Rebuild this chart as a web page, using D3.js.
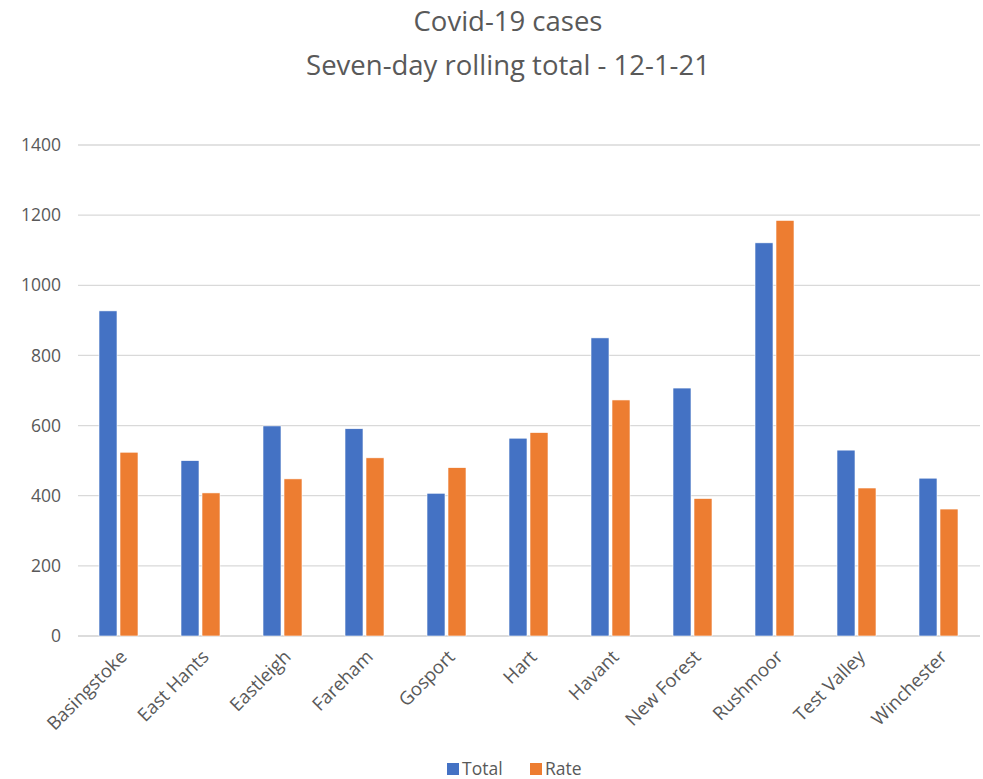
<!DOCTYPE html>
<html><head><meta charset="utf-8">
<script src="https://cdn.jsdelivr.net/npm/d3@7"></script>
<style>body{margin:0;background:#fff}svg{display:block}</style>
</head><body><svg id="c" width="983" height="779"></svg>
<script>
const categories = ["Basingstoke","East Hants","Eastleigh","Fareham","Gosport","Hart","Havant","New Forest","Rushmoor","Test Valley","Winchester"];
const totalValues = [927,500,599,591,407,564,850,707,1121,530,450];
const rateValues = [524,408,448,508,480,580,673,392,1185,422,362];
const seriesNames = ["Total","Rate"];
const seriesColors = ["#4472C4","#ED7D31"];
const yTicks = [0,200,400,600,800,1000,1200,1400];

(function(){
const svg = d3.select("#c");
const font = "'Open Sans', sans-serif";
const pLeft = 78, pRight = 980, pTop = 145, pBottom = 636;
const x = d3.scaleBand().domain(categories).range([pLeft, pRight]).paddingInner(0).paddingOuter(0);
const y = d3.scaleLinear().domain([0,1400]).range([pBottom, pTop]);
const xs = d3.scaleBand().domain(seriesNames).range([0, 42]).padding(0);

svg.append("text").attr("x",508).attr("y",31).attr("text-anchor","middle")
  .attr("font-family",font).attr("font-size",27.5).attr("fill","#595959").text("Covid-19 cases");
svg.append("text").attr("x",508).attr("y",75).attr("text-anchor","middle")
  .attr("font-family",font).attr("font-size",27.5).attr("fill","#595959").text("Seven-day rolling total - 12-1-21");

svg.append("g").selectAll("line").data(yTicks).join("line")
  .attr("x1",pLeft).attr("x2",pRight).attr("y1",d=>y(d)).attr("y2",d=>y(d))
  .attr("stroke",d=>d===0?"#D0D0D0":"#D9D9D9").attr("stroke-width",1.3);

const yAxis = d3.axisLeft(y).tickValues(yTicks).tickFormat(d3.format("d")).tickSize(0).tickPadding(17);
const ya = svg.append("g").attr("transform",`translate(${pLeft},0)`).call(yAxis);
ya.attr("font-size",null).attr("font-family",null);
ya.select(".domain").remove();
ya.selectAll("text").attr("font-family",font).attr("font-size",17.5).attr("fill","#595959");

const data = categories.map((c,i)=>({c, vals:[totalValues[i], rateValues[i]]}));
const g = svg.append("g");
data.forEach(d=>{
  const bx = x(d.c) + (x.bandwidth()-42)/2 + 0.5;
  d.vals.forEach((v,j)=>{
    g.append("rect").attr("x", bx + xs(seriesNames[j]) + 0.5).attr("width", xs.bandwidth()-3)
      .attr("y", y(v)).attr("height", y(0)-y(v))
      .attr("fill", seriesColors[j]).attr("stroke","#fff").attr("stroke-width",0.6);
  });
});

const xAxis = d3.axisBottom(x).tickSize(0).tickPadding(0);
const xa = svg.append("g").attr("transform",`translate(0,${pBottom})`).call(xAxis);
xa.attr("font-size",null).attr("font-family",null);
xa.select(".domain").remove();
xa.selectAll("text").attr("font-family",font).attr("font-size",18.5).attr("fill","#595959")
  .attr("text-anchor","end").attr("dy",0)
  .attr("transform","translate(9,22) rotate(-45)");

const lg = svg.append("g");
const legX = [447, 530];
seriesNames.forEach((s,i)=>{
  lg.append("rect").attr("x",legX[i]).attr("y",763).attr("width",12).attr("height",12).attr("fill",seriesColors[i]);
  lg.append("text").attr("x",legX[i]+15).attr("y",775).attr("font-family",font).attr("font-size",17.5).attr("fill","#595959").text(s);
});
})();
</script></body></html>
